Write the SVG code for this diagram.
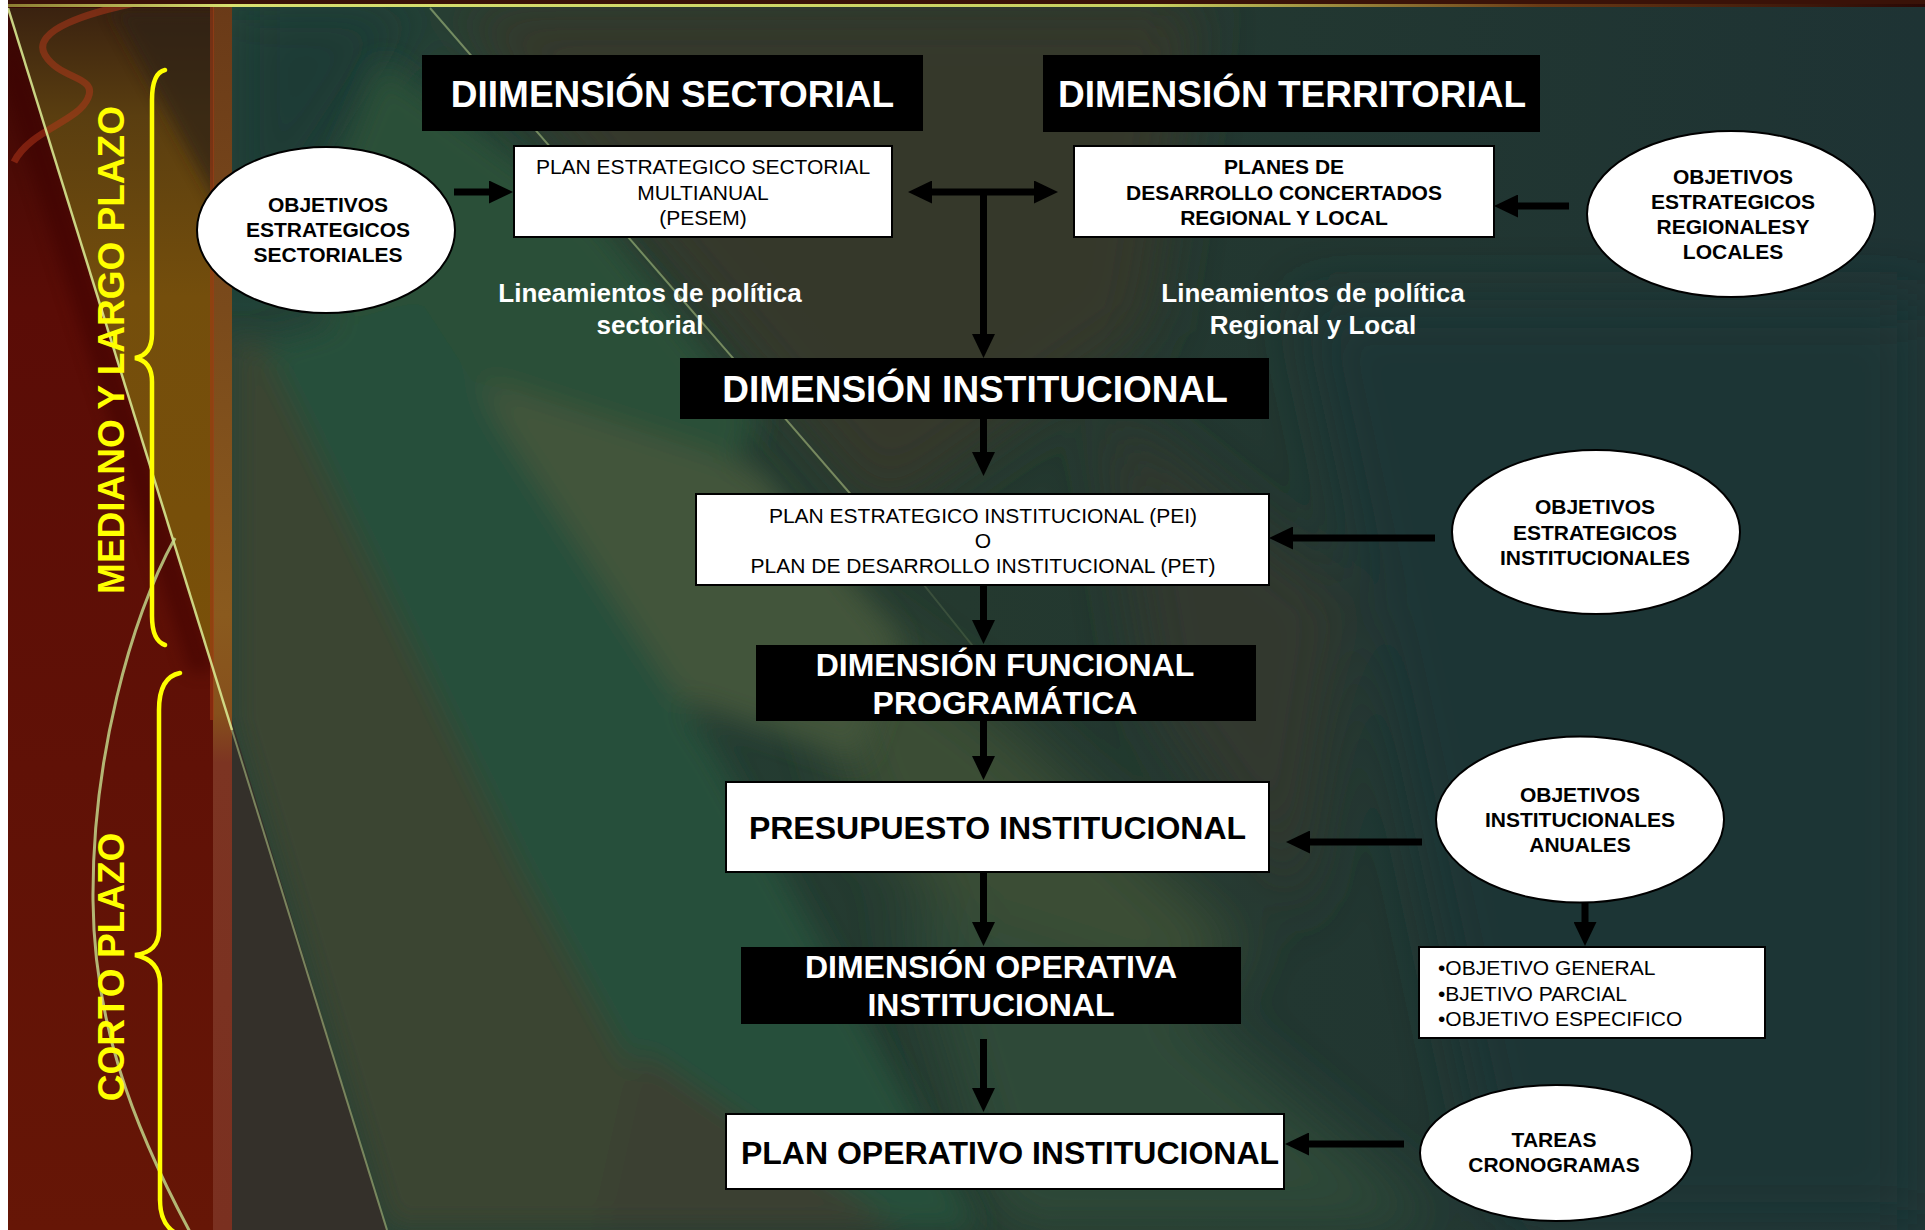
<svg xmlns="http://www.w3.org/2000/svg" width="1925" height="1230" viewBox="0 0 1925 1230">
<defs>
<style>
.hdr{font-family:"Liberation Sans",Arial,sans-serif;font-weight:bold;font-size:37px;fill:#fff;text-anchor:middle}
.hdr2{font-family:"Liberation Sans",Arial,sans-serif;font-weight:bold;font-size:32px;fill:#fff;text-anchor:middle}
.big{font-family:"Liberation Sans",Arial,sans-serif;font-weight:bold;font-size:32px;fill:#000;text-anchor:middle}
.t21{font-family:"Liberation Sans",Arial,sans-serif;font-size:21px;fill:#000;text-anchor:middle}
.l21{font-family:"Liberation Sans",Arial,sans-serif;font-size:21px;fill:#000;text-anchor:start}
.b21{font-family:"Liberation Sans",Arial,sans-serif;font-weight:bold;font-size:21px;fill:#000;text-anchor:middle}
.lin{font-family:"Liberation Sans",Arial,sans-serif;font-weight:bold;font-size:26px;fill:#fff;text-anchor:middle}
.side{font-family:"Liberation Sans",Arial,sans-serif;font-weight:bold;font-size:37px;fill:#ffff00;text-anchor:middle}
.box{fill:#fff;stroke:#000;stroke-width:2}
.blk{fill:#000}
.ell{fill:#fff;stroke:#000;stroke-width:2}
.conn{stroke:#000;stroke-width:7;fill:none}
.brace{stroke:#ffff00;stroke-width:4.5;fill:none;stroke-linecap:round}
</style>
<marker id="ah" markerUnits="userSpaceOnUse" markerWidth="24" markerHeight="23" refX="12" refY="11.5" orient="auto-start-reverse" viewBox="0 0 24 23"><path d="M0,0 L24,11.5 L0,23 Z" fill="#000"/></marker>
<filter id="blur" x="-30%" y="-30%" width="160%" height="160%"><feGaussianBlur stdDeviation="30"/></filter>
<filter id="blurm" x="-30%" y="-30%" width="160%" height="160%"><feGaussianBlur stdDeviation="14"/></filter>
<filter id="blur2" x="-30%" y="-30%" width="160%" height="160%"><feGaussianBlur stdDeviation="8"/></filter>
<clipPath id="mainClip"><rect x="232" y="0" width="1693" height="1230"/></clipPath>
<clipPath id="bandClip"><rect x="8" y="0" width="224" height="1230"/></clipPath>
<linearGradient id="bgGrad" x1="0" y1="0" x2="1" y2="0">
<stop offset="0" stop-color="#24463a"/><stop offset="0.5" stop-color="#24392f"/><stop offset="1" stop-color="#1e3334"/>
</linearGradient>
<linearGradient id="topline" x1="0" y1="0" x2="1" y2="0">
<stop offset="0" stop-color="#8a7a30"/><stop offset="0.12" stop-color="#d8e070"/><stop offset="0.6" stop-color="#c8d060"/><stop offset="0.8" stop-color="#6a3a15"/><stop offset="1" stop-color="#2a0805"/>
</linearGradient>
<linearGradient id="redband" x1="0" y1="0" x2="0" y2="1">
<stop offset="0" stop-color="#3a0a06"/><stop offset="0.25" stop-color="#5a0c06"/><stop offset="1" stop-color="#661606"/>
</linearGradient>
<linearGradient id="gold" x1="0" y1="0" x2="0" y2="1">
<stop offset="0" stop-color="#3a2210"/><stop offset="0.15" stop-color="#5a3e10"/><stop offset="0.4" stop-color="#744e0c"/><stop offset="1" stop-color="#7a5008"/>
</linearGradient>
<linearGradient id="strip" x1="0" y1="0" x2="0" y2="1">
<stop offset="0" stop-color="#6a3a18"/><stop offset="0.5" stop-color="#8a5a1e"/><stop offset="0.58" stop-color="#86501c"/><stop offset="0.62" stop-color="#7c3422"/><stop offset="1" stop-color="#7a3020"/>
</linearGradient>
</defs>

<g id="background">
<rect width="1925" height="1230" fill="url(#bgGrad)"/>
<g clip-path="url(#mainClip)">
<g filter="url(#blur)">
<polygon points="440,0 1200,0 1150,330 880,520" fill="#34392c"/>
<polygon points="232,0 430,0 232,300" fill="#1d3a34"/>
<polygon points="780,560 1000,720 1250,950 1100,1050 860,820" fill="#3a4d35"/>
<polygon points="900,900 1150,980 1450,1230 1000,1230" fill="#2f4a37"/>
<polygon points="1300,300 1925,300 1925,1230 1500,1230" fill="#1e3535"/>
<polygon points="1100,400 1350,600 1300,920 1150,700" fill="#33392e"/>
</g>
<g filter="url(#blurm)">
<polygon points="380,60 600,220 760,420 680,560 450,520 300,260" fill="#2a5038"/>
<polygon points="480,380 760,470 900,640 860,760 620,680" fill="#42553a"/>
<polygon points="232,330 262,345 520,870 720,1230 387,1230 232,721" fill="#3b4530"/>
<polygon points="262,345 420,300 720,760 980,1230 720,1230 520,870" fill="#26503a"/>
<polygon points="640,1050 900,1230 600,1230" fill="#3a4030"/>
</g>
<polygon points="232,721 387,1230 232,1230" fill="#34302a"/>
</g>
<path d="M430,8 L860,505" stroke="#c0d890" stroke-width="2" fill="none" opacity="0.5"/>
<path d="M860,505 L1000,680" stroke="#c0d890" stroke-width="2" fill="none" opacity="0.15"/>
<!-- left band -->
<rect x="8" y="0" width="224" height="1230" fill="url(#redband)"/>
<g clip-path="url(#bandClip)">
<path d="M8,8 L214,672 L190,672 L2,80 Z" fill="#3a0604" opacity="0.5" filter="url(#blur2)"/>
<polygon points="8,8 232,8 232,730" fill="url(#gold)"/>
<polygon points="110,8 232,8 232,230" fill="#2e2414" opacity="0.7" filter="url(#blur2)"/>
</g>
<rect x="213" y="0" width="19" height="1230" fill="url(#strip)"/>
<rect x="210" y="0" width="4" height="720" fill="#a03a14" opacity="0.6"/>
<path d="M140,2 C90,12 30,30 45,55 C60,80 98,76 88,98 C78,122 30,130 14,162" stroke="#b8381a" stroke-width="7" fill="none" opacity="0.5"/>
<path d="M8,8 L232,730" stroke="#d8e890" stroke-width="2.5" fill="none" opacity="0.9"/>
<path d="M232,730 L387,1230" stroke="#c0d890" stroke-width="2" fill="none" opacity="0.5"/>
<path d="M175,538 C130,620 92,760 93,900 C94,1020 130,1120 190,1232" stroke="#c8e090" stroke-width="3" fill="none" opacity="0.8"/>
<rect x="0" y="0" width="1925" height="4" fill="#3a1208"/>
<rect x="0" y="4" width="1925" height="3" fill="url(#topline)"/>
<rect x="0" y="0" width="8" height="1230" fill="#fff"/>
</g>

<g id="side-mediano">
<path class="brace" d="M165,70 C156,72 152,84 152,100 L152,334 C152,348 146,356 135,358 C146,360 152,368 152,382 L152,616 C152,632 156,642 165,645"/>
<text class="side" transform="translate(124,350) rotate(-90)">MEDIANO Y LARGO PLAZO</text>
</g>
<g id="side-corto">
<path class="brace" d="M180,673 C165,676 159,690 159,710 L159,930 C159,946 150,953 135,955 C150,958 160,966 160,984 L160,1200 C160,1215 165,1226 174,1232"/>
<text class="side" transform="translate(124,967) rotate(-90)">CORTO PLAZO</text>
</g>

<g id="dim-sectorial"><rect class="blk" x="422" y="55" width="501" height="76"/><text class="hdr" x="672.5" y="107">DIIMENSIÓN SECTORIAL</text></g>
<g id="dim-territorial"><rect class="blk" x="1043" y="55" width="497" height="77"/><text class="hdr" x="1292" y="107">DIMENSIÓN TERRITORIAL</text></g>

<g id="pesem"><rect class="box" x="514" y="146" width="378" height="91"/>
<text class="t21" x="703" y="174">PLAN ESTRATEGICO SECTORIAL</text>
<text class="t21" x="703" y="200">MULTIANUAL</text>
<text class="t21" x="703" y="225">(PESEM)</text></g>

<g id="planes"><rect class="box" x="1074" y="146" width="420" height="91"/>
<text class="b21" x="1284" y="174">PLANES DE</text>
<text class="b21" x="1284" y="200">DESARROLLO CONCERTADOS</text>
<text class="b21" x="1284" y="225">REGIONAL Y LOCAL</text></g>

<g id="obj-sectoriales"><ellipse class="ell" cx="326" cy="230" rx="129" ry="83"/>
<text class="b21" x="328" y="211.5">OBJETIVOS</text>
<text class="b21" x="328" y="237">ESTRATEGICOS</text>
<text class="b21" x="328" y="262">SECTORIALES</text></g>

<g id="obj-regionales"><ellipse class="ell" cx="1731" cy="214" rx="144" ry="83"/>
<text class="b21" x="1733" y="184">OBJETIVOS</text>
<text class="b21" x="1733" y="209">ESTRATEGICOS</text>
<text class="b21" x="1733" y="234">REGIONALESY</text>
<text class="b21" x="1733" y="259">LOCALES</text></g>

<g id="lin-sectorial"><text class="lin" x="650" y="302">Lineamientos de política</text><text class="lin" x="650" y="334">sectorial</text></g>
<g id="lin-regional"><text class="lin" x="1313" y="302">Lineamientos de política</text><text class="lin" x="1313" y="334">Regional y Local</text></g>

<g id="dim-institucional"><rect class="blk" x="680" y="358" width="589" height="61"/><text class="hdr" x="975" y="402">DIMENSIÓN INSTITUCIONAL</text></g>

<g id="pei"><rect class="box" x="696" y="494" width="573" height="91"/>
<text class="t21" x="983" y="523">PLAN ESTRATEGICO INSTITUCIONAL (PEI)</text>
<text class="t21" x="983" y="548">O</text>
<text class="t21" x="983" y="573">PLAN DE DESARROLLO INSTITUCIONAL (PET)</text></g>

<g id="obj-institucionales"><ellipse class="ell" cx="1596" cy="532" rx="144" ry="82"/>
<text class="b21" x="1595" y="514">OBJETIVOS</text>
<text class="b21" x="1595" y="540">ESTRATEGICOS</text>
<text class="b21" x="1595" y="565">INSTITUCIONALES</text></g>

<g id="dim-funcional"><rect class="blk" x="756" y="645" width="500" height="76"/>
<text class="hdr2" x="1005" y="676">DIMENSIÓN FUNCIONAL</text>
<text class="hdr2" x="1005" y="714">PROGRAMÁTICA</text></g>

<g id="presupuesto"><rect class="box" x="726" y="782" width="543" height="90"/>
<text class="big" x="997.5" y="839">PRESUPUESTO INSTITUCIONAL</text></g>

<g id="obj-anuales"><ellipse class="ell" cx="1580" cy="819.5" rx="144" ry="83"/>
<text class="b21" x="1580" y="802">OBJETIVOS</text>
<text class="b21" x="1580" y="827">INSTITUCIONALES</text>
<text class="b21" x="1580" y="852">ANUALES</text></g>

<g id="objetivos-lista"><rect class="box" x="1419" y="947" width="346" height="91"/>
<text class="l21" x="1438" y="975">•OBJETIVO GENERAL</text>
<text class="l21" x="1438" y="1001">•BJETIVO PARCIAL</text>
<text class="l21" x="1438" y="1026">•OBJETIVO ESPECIFICO</text></g>

<g id="dim-operativa"><rect class="blk" x="741" y="947" width="500" height="77"/>
<text class="hdr2" x="991" y="978">DIMENSIÓN OPERATIVA</text>
<text class="hdr2" x="991" y="1016">INSTITUCIONAL</text></g>

<g id="plan-operativo"><rect class="box" x="726" y="1114" width="558" height="75"/>
<text class="big" x="1010" y="1164">PLAN OPERATIVO INSTITUCIONAL</text></g>

<g id="tareas"><ellipse class="ell" cx="1556" cy="1153" rx="136" ry="68"/>
<text class="b21" x="1554" y="1147">TAREAS</text>
<text class="b21" x="1554" y="1172">CRONOGRAMAS</text></g>

<g id="connectors">
<path class="conn" d="M454,192 H501" marker-end="url(#ah)"/>
<path class="conn" d="M920,192 H1046" marker-start="url(#ah)" marker-end="url(#ah)"/>
<path class="conn" d="M983.5,192 V346" marker-end="url(#ah)"/>
<path class="conn" d="M1569,206 H1506" marker-end="url(#ah)"/>
<path class="conn" d="M983.5,419 V464" marker-end="url(#ah)"/>
<path class="conn" d="M1435,538 H1281" marker-end="url(#ah)"/>
<path class="conn" d="M983.5,585 V632" marker-end="url(#ah)"/>
<path class="conn" d="M983.5,721 V768" marker-end="url(#ah)"/>
<path class="conn" d="M1422,842 H1298" marker-end="url(#ah)"/>
<path class="conn" d="M1585,902 V934" marker-end="url(#ah)"/>
<path class="conn" d="M983.5,872 V934" marker-end="url(#ah)"/>
<path class="conn" d="M983.5,1039 V1100" marker-end="url(#ah)"/>
<path class="conn" d="M1404,1144 H1297" marker-end="url(#ah)"/>
</g>
</svg>
